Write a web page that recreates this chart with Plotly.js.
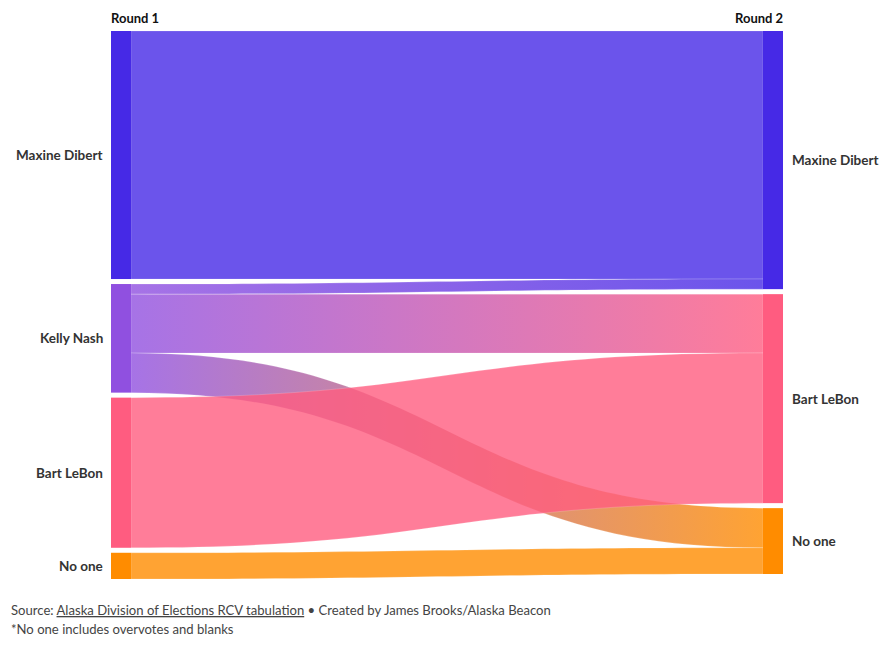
<!DOCTYPE html>
<html>
<head>
<meta charset="utf-8">
<script src="https://cdn.plot.ly/plotly-3.0.1.min.js"></script>
<style>
  html, body { margin: 0; padding: 0; background: #fff; }
  #chart { width: 882px; height: 646px; }
</style>
</head>
<body>
<div id="chart"></div>
<script>
// ---- data ----
var roundLabels = ['Round 1', 'Round 2'];
var nodeNames = ['Maxine Dibert', 'Kelly Nash', 'Bart LeBon', 'No one', 'Maxine Dibert', 'Bart LeBon', 'No one'];
var nodeColumn = [0, 0, 0, 0, 1, 1, 1];
var nodeColors = ['#4629e6', '#9050e0', '#ff5c80', '#ff8c00', '#4629e6', '#ff5c80', '#ff8c00'];
var linkSource = [0, 1, 1, 1, 2, 3];
var linkTarget = [4, 4, 5, 6, 5, 6];
var linkValues = [2478, 101, 588, 396, 1500, 262];
var sourceNote = 'Source: <span style="text-decoration:underline">Alaska Division of Elections RCV tabulation</span> \u2022 Created by James Brooks/Alaska Beacon';
var footNote = '*No one includes overvotes and blanks';

// ---- layout geometry ----
var W = 882, H = 646;
var M = {l: 111, r: 99, t: 31, b: 67};
var PW = W - M.l - M.r, PH = H - M.t - M.b;
var THICK = 20, PAD = 5;
function px(x) { return (x - M.l) / PW; }
function py(y) { return 1 - (y - M.t) / PH; }
var FONT = 'Lato, "Source Sans Pro", "Noto Sans", sans-serif';

function hexToRgba(hex, a) {
  var n = parseInt(hex.slice(1), 16);
  return 'rgba(' + ((n >> 16) & 255) + ',' + ((n >> 8) & 255) + ',' + (n & 255) + ',' + a + ')';
}
var LINK_OP = 0.8;
var linkColors = linkSource.map(function (s) { return hexToRgba(nodeColors[s], LINK_OP); });

// node totals (max of in/out flow) and stacked positions, top-aligned per column
var nodeTotals = nodeNames.map(function (_, n) {
  var out = 0, inn = 0;
  linkValues.forEach(function (v, i) {
    if (linkSource[i] === n) out += v;
    if (linkTarget[i] === n) inn += v;
  });
  return Math.max(out, inn);
});
var ky = Infinity;
[0, 1].forEach(function (c) {
  var sum = 0, cnt = 0;
  nodeTotals.forEach(function (t, n) { if (nodeColumn[n] === c) { sum += t; cnt++; } });
  ky = Math.min(ky, (PH - (cnt - 1) * PAD) / sum);
});
var nodeX = [], nodeY = [];
var cursor = [0, 0];
nodeTotals.forEach(function (t, n) {
  var c = nodeColumn[n];
  var h = t * ky;
  nodeY.push((cursor[c] + h / 2) / PH);
  cursor[c] += h + PAD;
  nodeX.push(c === 0 ? (THICK / 2) / PW : 1 - (THICK / 2) / PW);
});

var trace = {
  type: 'sankey',
  arrangement: 'fixed',
  domain: {x: [0, 1], y: [0, 1]},
  hoverinfo: 'none',
  node: {
    label: nodeNames.map(function () { return ''; }),
    color: nodeColors,
    x: nodeX,
    y: nodeY,
    thickness: THICK,
    pad: PAD,
    line: {width: 0}
  },
  link: {
    source: linkSource,
    target: linkTarget,
    value: linkValues,
    color: linkColors,
    line: {width: 0.5, color: 'rgba(255,255,255,0.35)'},
    hoverinfo: 'none'
  }
};

var baseAnnotations = [
  {text: '<b>' + roundLabels[0] + '</b>', xref: 'paper', yref: 'paper', x: px(109), y: py(18),
   xanchor: 'left', yanchor: 'middle', showarrow: false, font: {family: FONT, size: 13, color: '#111'}},
  {text: '<b>' + roundLabels[1] + '</b>', xref: 'paper', yref: 'paper', x: px(785), y: py(18),
   xanchor: 'right', yanchor: 'middle', showarrow: false, font: {family: FONT, size: 13, color: '#111'}},
  {text: sourceNote, xref: 'paper', yref: 'paper', x: px(9), y: py(610),
   xanchor: 'left', yanchor: 'middle', showarrow: false, align: 'left', font: {family: FONT, size: 13.1, color: '#444'}},
  {text: footNote, xref: 'paper', yref: 'paper', x: px(9), y: py(629),
   xanchor: 'left', yanchor: 'middle', showarrow: false, align: 'left', font: {family: FONT, size: 13.1, color: '#444'}}
];

var layout = {
  width: W, height: H,
  margin: M,
  paper_bgcolor: '#fff',
  font: {family: FONT, size: 13, color: '#333'},
  annotations: baseAnnotations.slice()
};

var gd = document.getElementById('chart');
Plotly.newPlot(gd, [trace], layout, {displayModeBar: false, staticPlot: true}).then(function () {
  // Place node labels outside the columns
  var groups = gd.querySelectorAll('.sankey-node');
  var box = gd.getBoundingClientRect();
  var anns = baseAnnotations.slice();
  groups.forEach(function (g, k) {
    var d = g.__data__;
    var idx = (d && d.node && d.node.pointNumber !== undefined) ? d.node.pointNumber : k;
    var r = g.querySelector('.node-rect').getBoundingClientRect();
    var cy = r.top - box.top + r.height / 2;
    var left = nodeColumn[idx] === 0;
    anns.push({
      text: '<b>' + nodeNames[idx] + '</b>', xref: 'paper', yref: 'paper',
      x: left ? px(r.left - box.left - 6) : px(r.right - box.left + 7),
      y: py(cy), xanchor: left ? 'right' : 'left', yanchor: 'middle', showarrow: false,
      font: {family: FONT, size: 13.5, color: '#333'}
    });
  });
  return Plotly.relayout(gd, {annotations: anns});
}).then(function () {
  // Gradient fills for links whose source and target colours differ
  var svg = gd.querySelector('.main-svg');
  var NS = 'http://www.w3.org/2000/svg';
  var defs = svg.querySelector('defs') || svg.insertBefore(document.createElementNS(NS, 'defs'), svg.firstChild);
  var links = gd.querySelectorAll('.sankey-link');
  links.forEach(function (p, k) {
    var d = p.__data__;
    var i = (d && d.link && d.link.pointNumber !== undefined) ? d.link.pointNumber : k;
    var c0 = nodeColors[linkSource[i]], c1 = nodeColors[linkTarget[i]];
    if (c0 === c1) return;
    var id = 'lg' + i;
    var lg = document.createElementNS(NS, 'linearGradient');
    lg.setAttribute('id', id);
    lg.setAttribute('x1', '0'); lg.setAttribute('x2', '1');
    lg.setAttribute('y1', '0'); lg.setAttribute('y2', '0');
    [[0, c0], [1, c1]].forEach(function (s) {
      var st = document.createElementNS(NS, 'stop');
      st.setAttribute('offset', s[0]);
      st.setAttribute('stop-color', s[1]);
      st.setAttribute('stop-opacity', LINK_OP);
      lg.appendChild(st);
    });
    defs.appendChild(lg);
    p.style.fill = 'url(#' + id + ')';
    p.style.fillOpacity = 1;
  });
});
</script>
</body>
</html>
